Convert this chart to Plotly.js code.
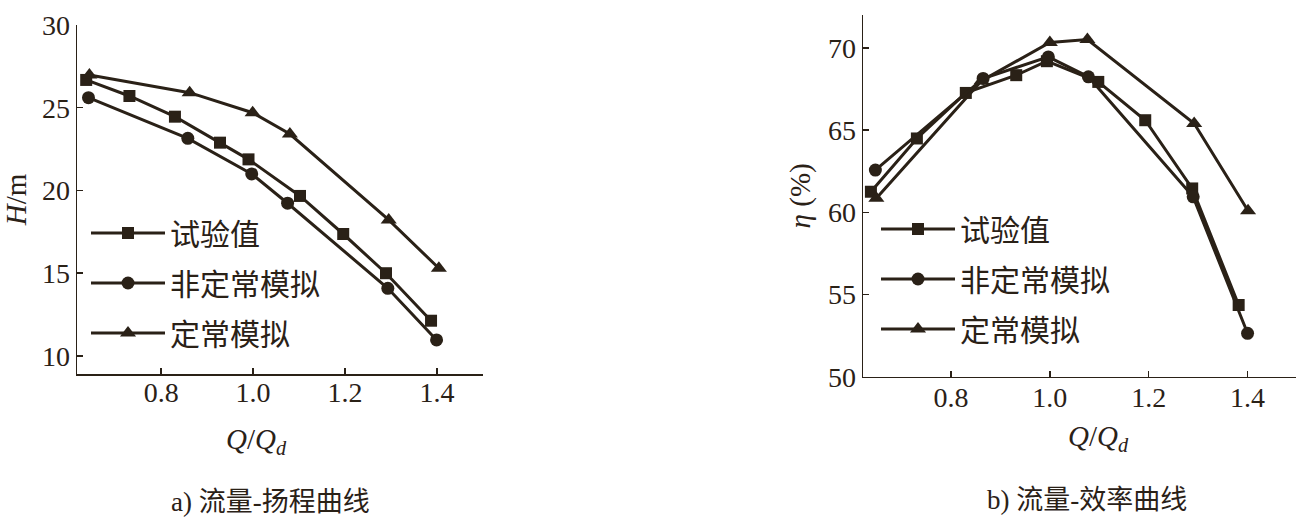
<!DOCTYPE html>
<html>
<head>
<meta charset="utf-8">
<script src="https://cdn.plot.ly/plotly-3.0.1.min.js"></script>
<style>
html,body{margin:0;padding:0;background:#ffffff;}
#chart{width:1296px;height:517px;}
</style>
</head>
<body>
<div id="chart"></div>
<script>
// ---- data ----
const seriesNames = ['试验值', '非定常模拟', '定常模拟'];

// a) flow - head
const qExpH = [0.637, 0.731, 0.830, 0.928, 0.990, 1.102, 1.196, 1.289, 1.387];
const hExp  = [26.68, 25.71, 24.46, 22.89, 21.88, 19.67, 17.37, 15.00, 12.13];
const qUnsH = [0.642, 0.858, 0.997, 1.075, 1.293, 1.399];
const hUns  = [25.61, 23.15, 21.00, 19.23, 14.09, 10.97];
const qSteH = [0.644, 0.862, 0.999, 1.080, 1.295, 1.404];
const hSte  = [26.98, 25.91, 24.70, 23.41, 18.22, 15.30];

// b) flow - efficiency
const qExpE = [0.638, 0.731, 0.830, 0.932, 0.994, 1.098, 1.193, 1.288, 1.382];
const eExp  = [61.25, 64.49, 67.26, 68.34, 69.19, 67.93, 65.60, 61.45, 54.36];
const qUnsE = [0.647, 0.865, 0.997, 1.078, 1.290, 1.400];
const eUns  = [62.57, 68.14, 69.45, 68.24, 60.94, 52.64];
const qSteE = [0.649, 0.862, 1.000, 1.076, 1.292, 1.401];
const eSte  = [60.85, 68.00, 70.33, 70.51, 65.40, 60.09];

const xTickVals = [0.8, 1.0, 1.2, 1.4];
const xTickText = ['0.8', '1.0', '1.2', '1.4'];
const xEndTick = [1.5];
const hTickVals = [10, 15, 20, 25, 30];
const eTickVals = [50, 55, 60, 65, 70];

const xTitle = '<i>Q</i>/<i>Q</i><sub><i>d</i></sub>';
const hTitle = '<i>H</i>/m';
const eTitle = '<i>η</i> (%)';
const captionA = 'a) 流量-扬程曲线';
const captionB = 'b) 流量-效率曲线';

// ---- style ----
const INK = '#2a2117';
const FONT = '"Liberation Serif", "Times New Roman", "Noto Sans CJK SC", serif';
const symbols = ['square', 'circle', 'triangle-up'];
const sizes = [12, 13, 14];

function trace(x, y, i, xa, ya, leg) {
  return {
    type: 'scatter', mode: 'lines+markers',
    x: x, y: y, name: seriesNames[i],
    xaxis: xa, yaxis: ya, legend: leg, legendgroup: leg + '_' + i,
    line: {color: INK, width: 3},
    marker: {symbol: symbols[i], size: sizes[i], color: INK, line: {width: 0}},
    cliponaxis: false
  };
}

const data = [
  trace(qExpH, hExp, 0, 'x', 'y', 'legend'),
  trace(qUnsH, hUns, 1, 'x', 'y', 'legend'),
  trace(qSteH, hSte, 2, 'x', 'y', 'legend'),
  trace(qExpE, eExp, 0, 'x2', 'y2', 'legend2'),
  trace(qUnsE, eUns, 1, 'x2', 'y2', 'legend2'),
  trace(qSteE, eSte, 2, 'x2', 'y2', 'legend2')
];

const W = 1296, H = 517;
const px = v => v / W;
const py = v => 1 - v / H;

function axisCommon() {
  return {
    showline: true, linecolor: INK, linewidth: 1.5,
    ticks: 'inside', ticklen: 6, tickwidth: 1.5, tickcolor: INK,
    showgrid: false, zeroline: false,
    tickfont: {family: FONT, size: 28, color: INK},
    fixedrange: true
  };
}

function legendBox(x, y) {
  return {
    x: px(x), xanchor: 'left', y: py(y), yanchor: 'top',
    bgcolor: 'rgba(0,0,0,0)', borderwidth: 0,
    font: {family: FONT, size: 30, color: INK},
    itemwidth: 74, tracegroupgap: 8, itemclick: false, itemdoubleclick: false
  };
}

function note(text, x, y, size) {
  return {text: text, xref: 'paper', yref: 'paper', x: px(x), y: py(y),
          xanchor: 'center', yanchor: 'middle', showarrow: false,
          font: {family: FONT, size: size, color: INK}};
}

const layout = {
  width: W, height: H,
  margin: {l: 0, r: 0, t: 0, b: 0},
  paper_bgcolor: '#ffffff', plot_bgcolor: '#ffffff',
  font: {family: FONT, color: INK, size: 28},
  xaxis: Object.assign(axisCommon(), {
    domain: [px(77), px(483)], range: [0.617, 1.5], anchor: 'y',
    tickvals: xTickVals, ticktext: xTickText, ticklabelstandoff: -7,
    minor: {tickvals: xEndTick, ticks: 'inside', ticklen: 6, tickwidth: 1.5, tickcolor: INK, showgrid: false}
  }),
  yaxis: Object.assign(axisCommon(), {
    domain: [py(374), py(25)], range: [8.91, 30], anchor: 'x',
    tickvals: hTickVals,
    title: {text: hTitle, font: {family: FONT, size: 29, color: INK}, standoff: 10}
  }),
  xaxis2: Object.assign(axisCommon(), {
    domain: [px(863), 1], range: [0.622, 1.498], anchor: 'y2',
    tickvals: xTickVals, ticktext: xTickText, ticklabelstandoff: -5
  }),
  yaxis2: Object.assign(axisCommon(), {
    domain: [py(376.7), py(15)], range: [50, 72], anchor: 'x2',
    tickvals: eTickVals,
    title: {text: eTitle, font: {family: FONT, size: 29, color: INK}, standoff: 8}
  }),
  legend: legendBox(86, 207),
  legend2: legendBox(876, 203),
  annotations: [
    note(xTitle, 256, 441, 29),
    note(xTitle, 1098, 438, 29),
    note(captionA, 270, 502, 27),
    note(captionB, 1087, 500, 27)
  ],
  showlegend: true
};

Plotly.newPlot('chart', data, layout, {displayModeBar: false, staticPlot: true});
</script>
</body>
</html>
